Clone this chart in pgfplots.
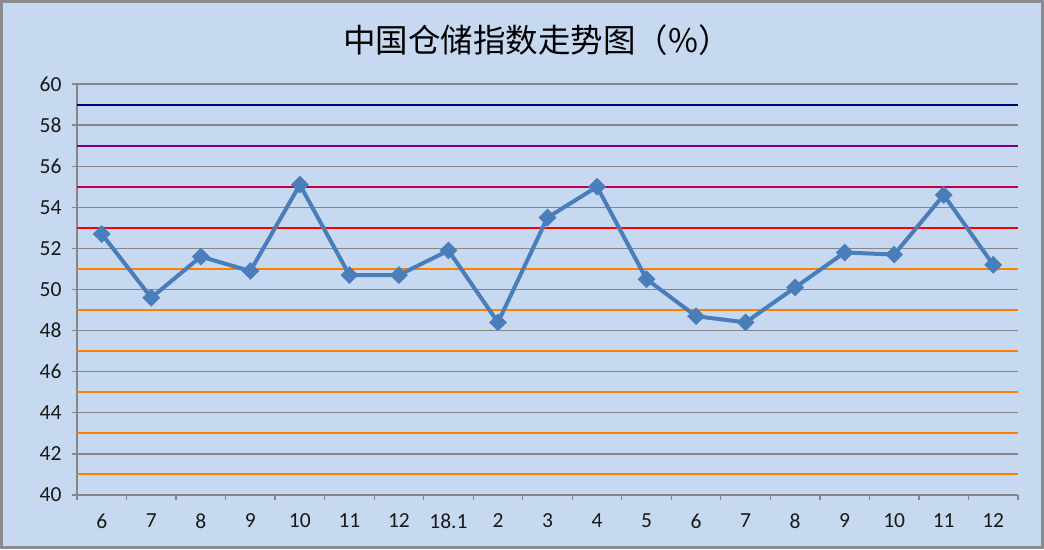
\documentclass[border=0pt]{standalone}
\usepackage{fontspec}
\setmainfont{Carlito}
\newfontfamily\cjk{Noto Sans CJK SC}
\usepackage{pgfplots}
\pgfplotsset{compat=1.18}
\definecolor{bgc}{HTML}{C6D9F1}
\definecolor{gridc}{HTML}{868686}
\definecolor{serc}{HTML}{4A7EBB}
\definecolor{navyc}{HTML}{000080}
\definecolor{purpc}{HTML}{800080}
\definecolor{magc}{HTML}{C0004F}
\definecolor{redc}{HTML}{FF0000}
\definecolor{orc}{HTML}{FF8000}
\begin{document}
\begin{tikzpicture}[x=1pt,y=1pt]
\fill[bgc] (-77,-54) rectangle (967,495);
\draw[gray!90,line width=3pt] (-75.5,-52.5) rectangle (965.5,493.5);
\begin{axis}[
  at={(0pt,0pt)}, anchor=south west,
  scale only axis, width=941pt, height=411pt,
  xmin=-0.5, xmax=18.5, ymin=40, ymax=60,
  axis x line*=bottom, axis y line*=left,
  axis line style={gridc, line width=1.3pt, -},
  xtick={0,...,18},
  xticklabels={6,7,8,9,10,11,12,18.1,2,3,4,5,6,7,8,9,10,11,12},
  minor xtick={-0.5,0.5,...,18.5},
  ytick={40,42,...,60},
  tick align=outside,
  major tick length=5pt, minor tick length=5pt,
  x tick style={draw=none},
  minor x tick style={draw=gridc, line width=1.3pt},
  y tick style={draw=gridc, line width=1.3pt},
  ymajorgrids, major grid style={gridc, line width=1.3pt},
  /pgf/number format/assume math mode=true,
  tick label style={font=\fontsize{21.5}{23}\selectfont, text=black!90},
  xticklabel style={yshift=-10pt},
  yticklabel style={xshift=-7pt},
  title={\cjk 中国仓储指数走势图（\%）},
  title style={at={(axis description cs:0.489,1)}, anchor=center, yshift=38pt, font=\fontsize{32.5}{34}\selectfont},
  clip=false,
]
\addplot[navyc, line width=2pt] coordinates {(-0.5,59) (18.5,59)};
\addplot[purpc, line width=2pt] coordinates {(-0.5,57) (18.5,57)};
\addplot[magc, line width=2pt] coordinates {(-0.5,55) (18.5,55)};
\addplot[redc, line width=2pt] coordinates {(-0.5,53) (18.5,53)};
\addplot[orc, line width=2pt] coordinates {(-0.5,51) (18.5,51)};
\addplot[orc, line width=2pt] coordinates {(-0.5,49) (18.5,49)};
\addplot[orc, line width=2pt] coordinates {(-0.5,47) (18.5,47)};
\addplot[orc, line width=2pt] coordinates {(-0.5,45) (18.5,45)};
\addplot[orc, line width=2pt] coordinates {(-0.5,43) (18.5,43)};
\addplot[orc, line width=2pt] coordinates {(-0.5,41) (18.5,41)};
\addplot[serc, line width=4pt, mark=square*, mark size=6pt, mark options={rotate=45, line width=0.5pt, fill=serc}] coordinates {
(0,52.7) (1,49.6) (2,51.6) (3,50.9) (4,55.1) (5,50.7) (6,50.7) (7,51.9) (8,48.4) (9,53.5)
(10,55.0) (11,50.5) (12,48.7) (13,48.4) (14,50.1) (15,51.8) (16,51.7) (17,54.6) (18,51.2)};
\end{axis}
\end{tikzpicture}
\end{document}
